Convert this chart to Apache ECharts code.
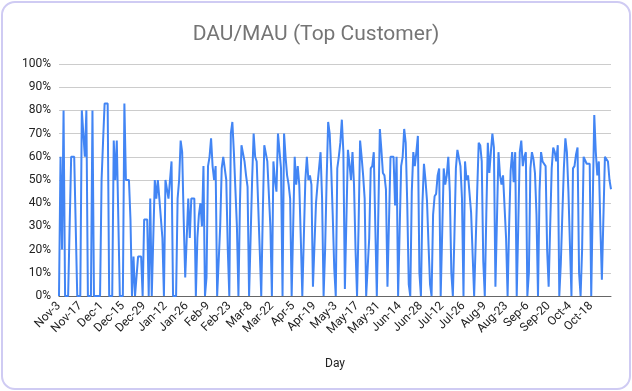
<!DOCTYPE html>
<html>
<head>
<meta charset="utf-8">
<script src="https://cdn.jsdelivr.net/npm/echarts@6/dist/echarts.min.js"></script>
<style>
  html, body { margin: 0; padding: 0; background: #ffffff; }
  #wrap { position: relative; width: 632px; height: 391px; }
  #chart { position: absolute; left: 0; top: 0; width: 632px; height: 391px; }
  #frame { position: absolute; left: 1px; top: 1px; width: 626px; height: 385px;
           border: 2px solid #cfcbf3; border-radius: 14px; pointer-events: none; }
</style>
</head>
<body>
<div id="wrap"><div id="chart"></div><div id="frame"></div></div>
<script>
// Daily DAU/MAU (%) from 2019-11-03 to 2020-10-31, one array per month
const startDate = [2019, 10, 3]; // year, monthIndex, day
const nov = [0,60,20,80,0,0,0,0,60,60,60,60,0,0,0,80,80,60,80,0,0,0,80,0,0,0,0,0];
const dec = [50,67,83,83,83,0,0,0,67,50,67,67,0,0,0,83,50,50,50,33,0,17,0,0,17,17,17,0,33,33,33];
const jan = [0,42,0,0,50,42,50,42,42,25,0,50,50,42,50,58,0,0,0,42,50,67,62,33,8,25,42,25,42,42,42];
const feb = [0,25,35,40,30,56,0,8,56,60,68,56,50,56,0,0,30,55,60,55,50,20,0,70,75,62,62,30,0];
const mar = [40,65,65,58,52,47,0,25,50,70,60,58,58,20,0,35,65,65,58,58,30,0,58,50,45,70,70,55,0,70,60];
const apr = [52,48,42,0,0,60,48,56,48,25,0,0,50,60,50,52,48,4,4,40,48,55,62,42,0,20,50,75,70,55];
const may = [35,12,0,55,60,66,76,62,3,3,63,57,50,62,48,20,0,30,67,60,52,42,0,0,25,55,56,62,30,0,0];
const jun = [72,63,53,52,46,4,4,60,60,60,39,60,0,0,56,60,72,66,40,5,0,45,62,56,62,69,10,0,40,57];
const jul = [50,41,22,5,0,35,43,44,52,55,0,0,55,48,52,60,45,10,0,25,55,63,63,56,42,0,58,50,52,52,36];
const aug = [18,0,0,45,66,65,58,15,0,35,66,53,62,70,64,4,4,62,52,48,52,52,25,0,30,54,62,49,62,0,30];
const sep = [62,67,56,60,62,0,10,55,62,59,53,35,0,45,62,58,58,56,20,4,30,55,64,62,58,65,0,14,35,55];
const oct = [68,62,45,22,0,55,56,61,64,10,0,20,60,60,57,57,57,0,40,78,62,52,58,30,7,7,60,60,58,50,46];
const yTicks = [0,10,20,30,40,50,60,70,80,90,100];
const monthNames = ['Jan','Feb','Mar','Apr','May','Jun','Jul','Aug','Sep','Oct','Nov','Dec'];

const values = [].concat(nov, dec, jan, feb, mar, apr, may, jun, jul, aug, sep, oct);
const days = [];
for (let i = 0; i < values.length; i++) {
  const dt = new Date(startDate[0], startDate[1], startDate[2] + i);
  days.push(monthNames[dt.getMonth()] + '-' + dt.getDate());
}

const chart = echarts.init(document.getElementById('chart'), null, { renderer: 'canvas' });
chart.setOption({
  animation: false,
  backgroundColor: '#ffffff',
  textStyle: { fontFamily: 'Roboto, Arial, sans-serif' },
  title: {
    text: 'DAU/MAU (Top Customer)',
    left: 'center',
    top: 19,
    textStyle: { fontSize: 21, fontWeight: 'normal', color: '#757575', fontFamily: 'Roboto, Arial, sans-serif' }
  },
  grid: { left: 59, right: 21, top: 64, bottom: 95, containLabel: false },
  xAxis: {
    type: 'category',
    data: days,
    boundaryGap: false,
    name: 'Day',
    nameLocation: 'middle',
    nameGap: 62,
    nameTextStyle: { fontSize: 12, color: '#222222' },
    axisLine: { show: true, lineStyle: { color: '#666666', width: 1 } },
    axisTick: { show: false },
    axisLabel: { interval: 13, rotate: 45, fontSize: 12, color: '#222222', margin: 8 },
    splitLine: { show: false }
  },
  yAxis: {
    type: 'value',
    min: yTicks[0], max: yTicks[yTicks.length - 1], interval: 10,
    axisLine: { show: false },
    axisTick: { show: false },
    axisLabel: { formatter: '{value}%', fontSize: 12, color: '#222222', margin: 8 },
    splitLine: { show: true, lineStyle: { color: '#cccccc', width: 1 } }
  },
  series: [{
    type: 'line',
    data: values,
    showSymbol: false,
    smooth: false,
    lineStyle: { color: '#4285f4', width: 2 },
    itemStyle: { color: '#4285f4' }
  }]
});
</script>
</body>
</html>
